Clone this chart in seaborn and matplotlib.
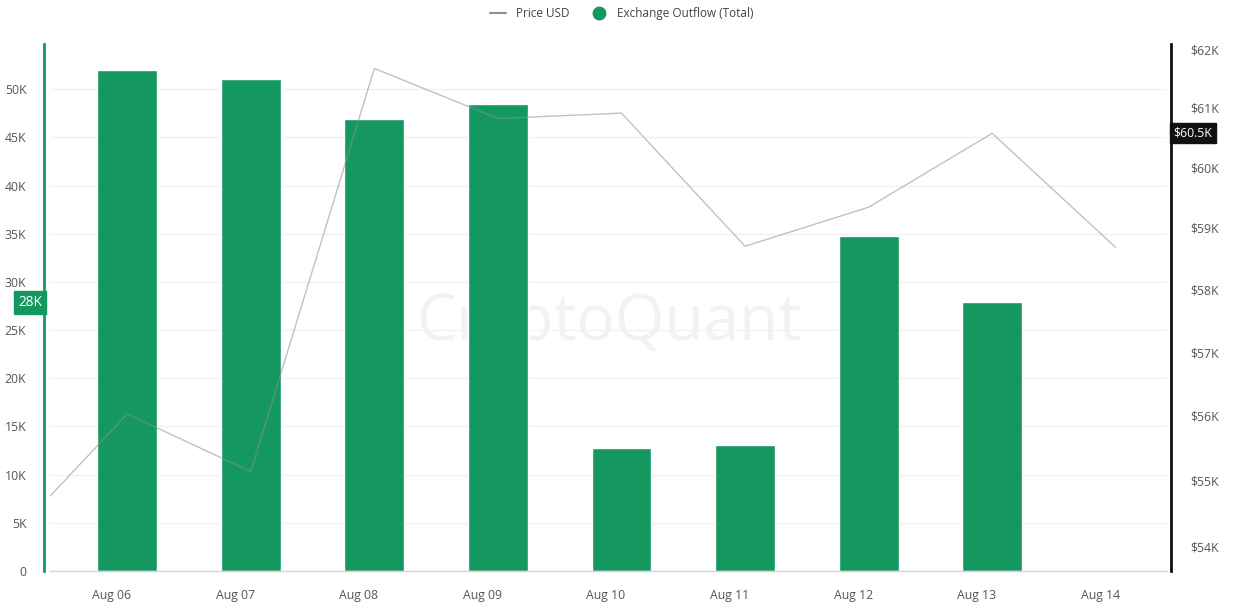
import pandas as pd
import matplotlib.pyplot as plt
import seaborn as sns
from matplotlib.lines import Line2D
from matplotlib.ticker import FixedLocator, FuncFormatter, NullLocator

# data
tick_days = ['Aug 06', 'Aug 07', 'Aug 08', 'Aug 09', 'Aug 10',
             'Aug 11', 'Aug 12', 'Aug 13', 'Aug 14']
price_days = ['Aug 05', 'Aug 06', 'Aug 07', 'Aug 08', 'Aug 09',
              'Aug 10', 'Aug 11', 'Aug 12', 'Aug 13', 'Aug 14']
price_usd = [54020, 56030, 55140, 61670, 60820, 60910, 58700, 59340, 60570, 58680]
outflow_days = ['Aug 06', 'Aug 07', 'Aug 08', 'Aug 09', 'Aug 10',
                'Aug 11', 'Aug 12', 'Aug 13']
outflow_total = [52000, 51100, 46900, 48500, 12800, 13100, 34750, 27900]
left_ticks = [0, 5000, 10000, 15000, 20000, 25000, 30000, 35000, 40000, 45000, 50000]
right_ticks = [54000, 55000, 56000, 57000, 58000, 59000, 60000, 61000, 62000]

GREEN = '#15985f'
TEXT = '#555555'
day0 = pd.Timestamp('2024-08-06')
shift_h = 3  # points are stamped a few hours after the day tick


def to_x(labels):
    d = pd.to_datetime(['2024 ' + s for s in labels], format='%Y %b %d')
    return [(t - day0).days + shift_h / 24 for t in d]


bars = pd.DataFrame({'x': to_x(outflow_days), 'outflow': outflow_total})
price = pd.DataFrame({'x': to_x(price_days), 'price': price_usd})
tick_x = [(t - day0).days for t in pd.to_datetime(['2024 ' + s for s in tick_days], format='%Y %b %d')]

sns.set_style('white')
plt.rcParams['font.family'] = ['Open Sans', 'DejaVu Sans']

fig = plt.figure(figsize=(12.43, 6.09), dpi=100)
ax = fig.add_axes([50 / 1243, 1 - 571 / 609, (1167 - 50) / 1243, (571 - 44) / 609])

# watermark behind the bars
ax.text(0.5, 0.47, 'CryptoQuant', transform=ax.transAxes, fontsize=46,
        color='#f2f2f5', ha='center', va='center', zorder=0)

sns.barplot(data=bars, x='x', y='outflow', native_scale=True, width=0.485,
            color=GREEN, saturation=1, errorbar=None, ax=ax, zorder=2)

ax.set_xlim(-0.5, 8.54)
ax.set_ylim(0, 54700)
ax.set_yticks(left_ticks)
ax.yaxis.set_major_formatter(FuncFormatter(lambda v, p: '0' if v == 0 else f'{v/1000:.0f}K'))
ax.set_xticks(tick_x)
ax.set_xticklabels(tick_days)
ax.set_xlabel('')
ax.set_ylabel('')
ax.grid(axis='y', color='#f1f1f1', linewidth=1, zorder=1)
ax.set_axisbelow(True)
ax.tick_params(axis='y', length=0, pad=13, labelsize=8.8, labelcolor=TEXT)
ax.tick_params(axis='x', length=8, width=0.8, color='#cfcfcf', pad=5,
               labelsize=8.8, labelcolor=TEXT)
for s in ['top', 'right']:
    ax.spines[s].set_visible(False)
ax.spines['left'].set_color(GREEN)
ax.spines['left'].set_linewidth(2)
ax.spines['left'].set_position(('outward', 4))
ax.spines['bottom'].set_color('#d2d2d2')
ax.spines['bottom'].set_linewidth(1)

# price on a log right axis
ax2 = ax.twinx()
sns.lineplot(data=price, x='x', y='price', color='#8f8f8f', alpha=0.55,
             linewidth=1, ax=ax2)
ax2.set_yscale('log')
ax2.set_ylim(53640, 62090)
ax2.yaxis.set_major_locator(FixedLocator(right_ticks))
ax2.yaxis.set_minor_locator(NullLocator())
ax2.yaxis.set_major_formatter(FuncFormatter(lambda v, p: f'${v/1000:.0f}K'))
ax2.set_xlim(-0.5, 8.54)
ax2.set_ylabel('')
ax2.set_xlabel('')
ax2.tick_params(axis='y', length=0, pad=14, labelsize=8.8, labelcolor=TEXT)
for s in ['top', 'left', 'bottom']:
    ax2.spines[s].set_visible(False)
ax2.spines['right'].set_color('#111111')
ax2.spines['right'].set_linewidth(2)
ax2.spines['right'].set_position(('outward', 3))

# hover tags for the last full day
ax.annotate(f'{outflow_total[-1]/1000:.0f}K', xy=(0, outflow_total[-1]),
            xycoords=('axes fraction', 'data'), xytext=(-14.5, 0),
            textcoords='offset points', ha='center', va='center',
            fontsize=9.8, color='white', annotation_clip=False,
            bbox=dict(boxstyle='square,pad=0.3', fc=GREEN, ec=GREEN))
ax2.annotate(f'${int(price_usd[-2] / 100) / 10}K', xy=(1, price_usd[-2]),
             xycoords=('axes fraction', 'data'), xytext=(18.5, 0),
             textcoords='offset points', ha='center', va='center',
             fontsize=8.8, color='white', annotation_clip=False,
             bbox=dict(boxstyle='square,pad=0.28', fc='#111111', ec='#111111'))

handles = [Line2D([], [], color='#8f8f8f', linewidth=1.5),
           Line2D([], [], color=GREEN, marker='o', linestyle='', markersize=9)]
fig.legend(handles, ['Price USD', 'Exchange Outflow (Total)'], loc='upper center',
           bbox_to_anchor=(0.5, 1.006), ncol=2, frameon=False, fontsize=8.5,
           handlelength=1.4, columnspacing=1.8, labelcolor='#444444')

fig.savefig('out.png', dpi=100)
